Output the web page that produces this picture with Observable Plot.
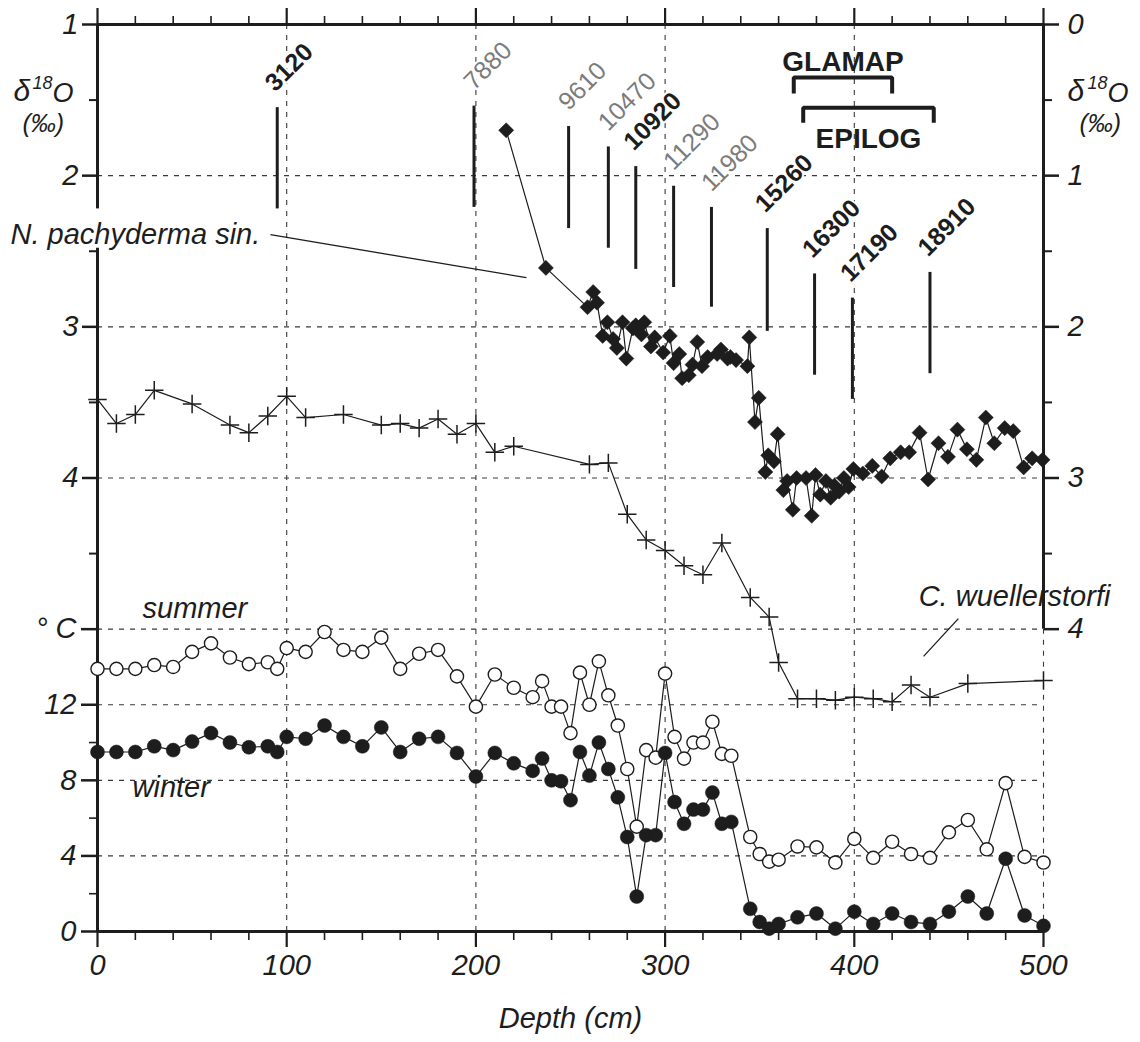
<!DOCTYPE html>
<html>
<head>
<meta charset="utf-8">
<script src="https://cdn.jsdelivr.net/npm/d3@7"></script>
<script src="https://cdn.jsdelivr.net/npm/@observablehq/plot@0.6"></script>
<style>
  html, body { margin: 0; padding: 0; background: #fff; }
</style>
</head>
<body>
<div id="chart"></div>
<script>
// ---------------- DATA ----------------
// N. pachyderma sin. δ18O (‰, left axis)
const pachyDepth = [216, 237, 259, 262, 264, 267, 269.5, 272.5, 274.5, 277.5, 279.5, 283, 284.5, 287.5, 289, 292.5, 294.5, 299, 302.5, 304.5, 307.5, 309, 312.5, 314.5, 317, 319.5, 322.5, 327.5, 329.5, 333, 334.5, 337.5, 343.5, 344.5, 347.5, 349.5, 353, 354.5, 357.5, 359.5, 362.5, 364.5, 367.5, 369.5, 374.5, 377.5, 379.5, 382, 385, 387.5, 389.5, 392, 394.5, 397, 399.5, 404.5, 409.5, 414.5, 419, 424.5, 429, 434.5, 439, 444.5, 449.5, 454.5, 459.5, 464.5, 469.5, 474, 479.5, 484, 489.5, 494, 499.5];
const pachyD18O = [1.70, 2.61, 2.87, 2.77, 2.84, 3.06, 2.97, 3.08, 3.14, 2.97, 3.21, 3.01, 2.99, 3.05, 2.97, 3.13, 3.07, 3.17, 3.06, 3.24, 3.18, 3.34, 3.32, 3.25, 3.10, 3.26, 3.20, 3.18, 3.15, 3.21, 3.20, 3.22, 3.26, 3.07, 3.63, 3.47, 3.96, 3.85, 3.89, 3.71, 4.08, 4.02, 4.21, 4.00, 4.00, 4.25, 3.98, 4.11, 4.02, 4.13, 4.05, 4.09, 4.00, 4.06, 3.94, 3.97, 3.92, 3.99, 3.87, 3.83, 3.83, 3.70, 4.01, 3.77, 3.86, 3.68, 3.81, 3.88, 3.60, 3.77, 3.67, 3.69, 3.93, 3.87, 3.88];

// C. wuellerstorfi δ18O (‰, right axis)
const wuellDepth = [0, 10, 20, 30, 50, 70, 80, 90, 100, 110, 130, 150, 160, 170, 180, 190, 200, 210, 220, 260, 270, 280, 290, 300, 310, 320, 330, 345, 355, 360, 370, 380, 390, 400, 410, 420, 430, 440, 460, 500];
const wuellD18O = [2.48, 2.64, 2.58, 2.42, 2.51, 2.65, 2.70, 2.59, 2.46, 2.60, 2.58, 2.65, 2.64, 2.67, 2.61, 2.71, 2.64, 2.83, 2.79, 2.91, 2.90, 3.24, 3.41, 3.48, 3.58, 3.64, 3.43, 3.79, 3.92, 4.22, 4.46, 4.46, 4.47, 4.45, 4.46, 4.48, 4.37, 4.45, 4.36, 4.34];

// Sea-surface temperatures (°C)
const sstDepth = [0, 10, 20, 30, 40, 50, 60, 70, 80, 90, 95, 100, 110, 120, 130, 140, 150, 160, 170, 180, 190, 200, 210, 220, 230, 235, 240, 245, 250, 255, 260, 265, 270, 275, 280, 285, 290, 295, 300, 305, 310, 315, 320, 325, 330, 335, 345, 350, 355, 360, 370, 380, 390, 400, 410, 420, 430, 440, 450, 460, 470, 480, 490, 500];
const summerSST = [13.9, 13.9, 13.9, 14.1, 14.0, 14.8, 15.25, 14.5, 14.15, 14.25, 13.9, 15.0, 14.8, 15.85, 14.9, 14.8, 15.55, 13.9, 14.7, 14.9, 13.5, 11.9, 13.6, 12.9, 12.4, 13.25, 11.9, 11.9, 10.5, 13.7, 12.0, 14.3, 12.5, 10.9, 8.6, 5.55, 9.6, 9.2, 13.65, 10.3, 9.15, 10.0, 10.0, 11.1, 9.4, 9.3, 5.0, 4.1, 3.7, 3.8, 4.5, 4.45, 3.65, 4.9, 3.9, 4.75, 4.1, 3.9, 5.25, 5.9, 4.35, 7.85, 3.95, 3.65];
const winterSST = [9.5, 9.5, 9.5, 9.8, 9.6, 10.05, 10.5, 10.0, 9.75, 9.8, 9.5, 10.3, 10.2, 10.9, 10.3, 9.8, 10.8, 9.5, 10.2, 10.3, 9.45, 8.2, 9.45, 8.9, 8.5, 9.15, 8.0, 7.95, 6.95, 9.5, 8.25, 10.0, 8.6, 7.1, 5.0, 1.85, 5.1, 5.1, 9.45, 6.85, 5.7, 6.45, 6.45, 7.35, 5.7, 5.8, 1.2, 0.5, 0.15, 0.4, 0.75, 0.95, 0.15, 1.05, 0.4, 0.95, 0.5, 0.4, 1.05, 1.85, 0.95, 3.85, 0.85, 0.3];

// AMS 14C age control points
const ageDepth  = [95, 199, 249, 270, 284.5, 304.5, 324.5, 354, 379, 399, 440];
const ageLabel  = ["3120", "7880", "9610", "10470", "10920", "11290", "11980", "15260", "16300", "17190", "18910"];
const ageBold   = [true, false, false, false, true, false, false, true, true, true, true];
const ageTop    = [1.55, 1.54, 1.675, 1.81, 1.94, 2.07, 2.21, 2.35, 2.65, 2.81, 2.64];
const ageBottom = [2.22, 2.21, 2.35, 2.48, 2.62, 2.74, 2.87, 3.03, 3.32, 3.48, 3.31];

// Time-slice brackets
const sliceName  = ["GLAMAP", "EPILOG"];
const sliceFrom  = [368, 373];
const sliceTo    = [420, 442];

// Axis ticks
const xMajor = [0, 100, 200, 300, 400, 500];
const xMinor = d3.range(0, 501, 20).filter(d => d % 100 !== 0);
const leftMajor = [1, 2, 3, 4];
const leftMinor = [1.5, 2.5, 3.5, 4.5];
const rightMajor = [0, 1, 2, 3, 4];
const rightMinor = [0.5, 1.5, 2.5, 3.5];
const tempMajor = [0, 4, 8, 12, 16];
const tempMinor = [2, 6, 10];

// ---------------- MAPPINGS ----------------
// common vertical space = left δ18O axis units
const rightToY = v => v + 1;       // right axis (C. wuellerstorfi) offset by 1 ‰
const tempToY = t => 7 - t / 8;    // °C panel below
const yToTemp = y => Math.round((7 - y) * 8);

const pachy = pachyDepth.map((d, i) => ({depth: d, y: pachyD18O[i]}));
const wuell = wuellDepth.map((d, i) => ({depth: d, y: rightToY(wuellD18O[i])}));
const summer = sstDepth.map((d, i) => ({depth: d, y: tempToY(summerSST[i])}));
const winter = sstDepth.map((d, i) => ({depth: d, y: tempToY(winterSST[i])}));
const ages = ageDepth.map((d, i) => ({depth: d, label: ageLabel[i], bold: ageBold[i], top: ageTop[i], bottom: ageBottom[i]}));

const sliceBar = {GLAMAP: 1.351, EPILOG: 1.55};
const sliceLeg = {GLAMAP: 1.457, EPILOG: 1.65};
const bracketPts = sliceName.flatMap((n, i) => [
  {name: n, x: sliceFrom[i], y: sliceLeg[n]},
  {name: n, x: sliceFrom[i], y: sliceBar[n]},
  {name: n, x: sliceTo[i], y: sliceBar[n]},
  {name: n, x: sliceTo[i], y: sliceLeg[n]}
]);
const bracketText = sliceName.map((n, i) => ({
  name: n, x: (sliceFrom[i] + sliceTo[i]) / 2, y: n === "GLAMAP" ? 1.305 : 1.82
}));

const INK = "#1d1d1d";
const FONT = "'Liberation Sans', Arial, Helvetica, sans-serif";
const grid = {stroke: "#3a3a3a", strokeWidth: 1.1, strokeDasharray: "5,6"};
const itxt = {fontFamily: FONT, fontStyle: "italic", fill: INK};

const chart = Plot.plot({
  width: 1140,
  height: 1042,
  marginTop: 24,
  marginBottom: 111,
  marginLeft: 97,
  marginRight: 97,
  x: {domain: [0, 500]},
  y: {domain: [1, 7], reverse: true},
  style: {fontFamily: FONT, background: "#fff", color: INK},
  marks: [
    // grid
    Plot.ruleY([2, 3, 4, 5, tempToY(12), tempToY(8), tempToY(4)], grid),
    Plot.ruleX([100, 200, 300, 400], grid),
    Plot.ruleX([500], {...grid, y1: 5, y2: 7}),

    // frame lines
    Plot.ruleY([1, 7], {stroke: INK, strokeWidth: 3}),
    Plot.ruleX([0], {y1: 1, y2: 2.22, stroke: INK, strokeWidth: 3}),
    Plot.ruleX([0], {y1: 2.48, y2: 7, stroke: INK, strokeWidth: 3}),
    Plot.ruleX([500], {y1: 1, y2: 5, stroke: INK, strokeWidth: 3}),

    // top axis ticks
    Plot.axisX({anchor: "top", ticks: xMajor, tickSize: 17, strokeWidth: 2.2, stroke: INK, tickFormat: () => "", label: null}),
    Plot.axisX({anchor: "top", ticks: xMinor, tickSize: 9, strokeWidth: 1.6, stroke: INK, tickFormat: () => "", label: null}),
    // bottom axis
    Plot.axisX({anchor: "bottom", ticks: xMajor, tickSize: 16, tickPadding: 7, strokeWidth: 2.2, stroke: INK,
      tickFormat: d => String(d), fontSize: 29, ...itxt, label: null}),
    Plot.axisX({anchor: "bottom", ticks: xMinor, tickSize: 9, strokeWidth: 1.6, stroke: INK, tickFormat: () => "", label: null}),
    // left δ18O axis
    Plot.axisY({anchor: "left", ticks: leftMajor, tickSize: 15, tickPadding: 4, strokeWidth: 2.5, stroke: INK,
      tickFormat: d => String(d), fontSize: 29, ...itxt, label: null}),
    Plot.axisY({anchor: "left", ticks: leftMinor, tickSize: 8, strokeWidth: 2, stroke: INK, tickFormat: () => "", label: null}),
    // left temperature axis
    Plot.axisY({anchor: "left", ticks: tempMajor.map(tempToY), tickSize: 16, tickPadding: 5, strokeWidth: 2.5, stroke: INK,
      tickFormat: y => { const t = yToTemp(y); return t === 16 ? "° C" : String(t); },
      fontSize: 29, ...itxt, label: null}),
    Plot.axisY({anchor: "left", ticks: tempMinor.map(tempToY), tickSize: 8, strokeWidth: 1.6, stroke: INK, tickFormat: () => "", label: null}),
    // right δ18O axis
    Plot.axisY({anchor: "right", ticks: rightMajor.map(rightToY), tickSize: 15, tickPadding: 9, strokeWidth: 2.5, stroke: INK,
      tickFormat: y => String(Math.round(y - 1)), fontSize: 29, ...itxt, label: null}),
    Plot.axisY({anchor: "right", ticks: rightMinor.map(rightToY), tickSize: 8, strokeWidth: 2, stroke: INK, tickFormat: () => "", label: null}),

    // age control lines + labels
    Plot.ruleX(ages, {x: "depth", y1: "top", y2: "bottom", stroke: INK, strokeWidth: 3}),
    Plot.text(ages.filter(d => d.bold), {x: "depth", y: "top", text: "label", rotate: -45, textAnchor: "start", lineAnchor: "bottom",
      dx: -2, dy: -15, fontSize: 25, fontWeight: "bold", fontFamily: FONT, fill: INK, stroke: "white", strokeWidth: 4}),
    Plot.text(ages.filter(d => !d.bold), {x: "depth", y: "top", text: "label", rotate: -45, textAnchor: "start", lineAnchor: "bottom",
      dx: 0, dy: -15, fontSize: 25, fontFamily: FONT, fill: "#7b7b7b", stroke: "white", strokeWidth: 4}),

    // GLAMAP / EPILOG brackets
    Plot.line(bracketPts, {x: "x", y: "y", z: "name", stroke: INK, strokeWidth: 4, strokeLinejoin: "miter", strokeLinecap: "butt"}),
    Plot.text(bracketText, {x: "x", y: "y", text: "name", lineAnchor: "bottom", fontSize: 28, fontWeight: "bold", fontFamily: FONT, fill: INK}),

    // series: C. wuellerstorfi
    Plot.line(wuell, {x: "depth", y: "y", stroke: INK, strokeWidth: 1.2}),
    Plot.dot(wuell, {x: "depth", y: "y", symbol: "plus", r: 6, stroke: INK, strokeWidth: 1.5}),
    // series: N. pachyderma sin.
    Plot.line(pachy, {x: "depth", y: "y", stroke: INK, strokeWidth: 1.2}),
    Plot.dot(pachy, {x: "depth", y: "y", symbol: "diamond2", r: 6.8, fill: INK, stroke: INK, strokeWidth: 0.5}),
    // series: summer SST
    Plot.line(summer, {x: "depth", y: "y", stroke: INK, strokeWidth: 1.2}),
    Plot.dot(summer, {x: "depth", y: "y", r: 6.6, fill: "white", stroke: INK, strokeWidth: 1.4}),
    // series: winter SST
    Plot.line(winter, {x: "depth", y: "y", stroke: INK, strokeWidth: 1.2}),
    Plot.dot(winter, {x: "depth", y: "y", r: 7, fill: INK, stroke: INK, strokeWidth: 0.5}),

    // series labels + leaders
    Plot.link([{x1: 91.4, y1: 2.39, x2: 226.7, y2: 2.675}], {x1: "x1", y1: "y1", x2: "x2", y2: "y2", stroke: INK, strokeWidth: 1.3}),
    Plot.link([{x1: 455, y1: 4.93, x2: 436.6, y2: 5.18}], {x1: "x1", y1: "y1", x2: "x2", y2: "y2", stroke: INK, strokeWidth: 1.3}),
    Plot.text([{x: -46, y: 2.45, t: "N. pachyderma sin."}], {x: "x", y: "y", text: "t", textAnchor: "start", lineAnchor: "bottom", fontSize: 29, ...itxt}),
    Plot.text([{x: 434, y: 4.85, t: "C. wuellerstorfi"}], {x: "x", y: "y", text: "t", textAnchor: "start", lineAnchor: "bottom", fontSize: 29, ...itxt}),
    Plot.text([{x: 23.8, y: tempToY(16.6), t: "summer"}], {x: "x", y: "y", text: "t", textAnchor: "start", lineAnchor: "bottom", fontSize: 29, ...itxt}),
    Plot.text([{x: 18.5, y: tempToY(7.1), t: "winter"}], {x: "x", y: "y", text: "t", textAnchor: "start", lineAnchor: "bottom", fontSize: 29, ...itxt}),

    // δ18O axis titles (left)
    Plot.text(["δ"], {frameAnchor: "top-left", text: d => d, textAnchor: "start", lineAnchor: "bottom", dx: -84, dy: 76, fontSize: 30, ...itxt}),
    Plot.text(["18"], {frameAnchor: "top-left", text: d => d, textAnchor: "start", lineAnchor: "bottom", dx: -65, dy: 64, fontSize: 18, ...itxt}),
    Plot.text(["O"], {frameAnchor: "top-left", text: d => d, textAnchor: "start", lineAnchor: "bottom", dx: -45, dy: 77, fontSize: 27, ...itxt}),
    Plot.text(["(‰)"], {frameAnchor: "top-left", text: d => d, textAnchor: "start", lineAnchor: "bottom", dx: -75, dy: 107, fontSize: 25, ...itxt}),
    // δ18O axis titles (right)
    Plot.text(["δ"], {frameAnchor: "top-right", text: d => d, textAnchor: "start", lineAnchor: "bottom", dx: 24, dy: 76, fontSize: 30, ...itxt}),
    Plot.text(["18"], {frameAnchor: "top-right", text: d => d, textAnchor: "start", lineAnchor: "bottom", dx: 44, dy: 64, fontSize: 18, ...itxt}),
    Plot.text(["O"], {frameAnchor: "top-right", text: d => d, textAnchor: "start", lineAnchor: "bottom", dx: 64, dy: 77, fontSize: 27, ...itxt}),
    Plot.text(["(‰)"], {frameAnchor: "top-right", text: d => d, textAnchor: "start", lineAnchor: "bottom", dx: 36, dy: 107, fontSize: 25, ...itxt}),

    // x-axis title
    Plot.text(["Depth (cm)"], {frameAnchor: "bottom", text: d => d, lineAnchor: "middle", dy: 87, fontSize: 29, ...itxt})
  ]
});

document.getElementById("chart").appendChild(chart);
</script>
</body>
</html>
